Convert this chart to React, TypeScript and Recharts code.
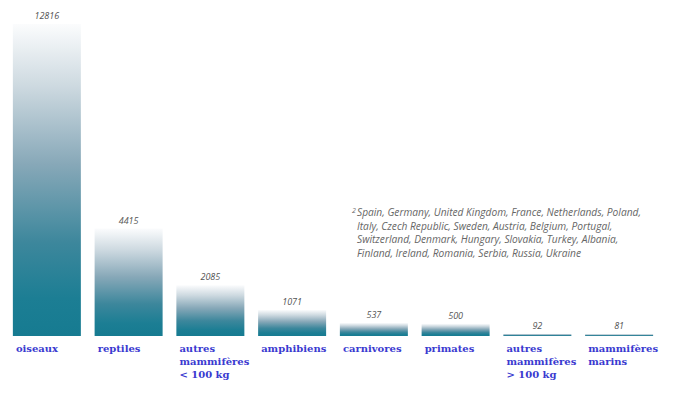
import React from 'react'
import { Bar, BarChart, LabelList, XAxis, YAxis } from 'recharts'

const categories = [
  'oiseaux',
  'reptiles',
  'autres|mammifères|< 100 kg',
  'amphibiens',
  'carnivores',
  'primates',
  'autres|mammifères|> 100 kg',
  'mammifères|marins',
]
const counts = [12816, 4415, 2085, 1071, 537, 500, 92, 81]
const footnote = [
  'Spain, Germany, United Kingdom, France, Netherlands, Poland,',
  'Italy, Czech Republic, Sweden, Austria, Belgium, Portugal,',
  'Switzerland, Denmark, Hungary, Slovakia, Turkey, Albania,',
  'Finland, Ireland, Romania, Serbia, Russia, Ukraine',
]

const data = categories.map((c, i) => ({ name: c, value: counts[i] }))

function CategoryTick(props: any) {
  const { x, y, payload } = props
  const lines = String(payload.value).split('|')
  const left = x - 34 + 3
  return (
    <text
      x={left}
      y={y + 8}
      fill="#3a3ad0"
      fontFamily="'DejaVu Serif', serif"
      fontWeight="bold"
      fontSize={10}
    >
      {lines.map((l, i) => (
        <tspan key={i} x={left} dy={i === 0 ? 0 : 13}>
          {l}
        </tspan>
      ))}
    </text>
  )
}

export default function App() {
  return (
    <div style={{ position: 'absolute', left: 0, top: 0, width: 681, height: 397, background: '#fff' }}>
      <BarChart
        width={681}
        height={397}
        data={data}
        margin={{ top: 24, right: 21, bottom: 0, left: 6 }}
        barCategoryGap="8.4%"
      >
        <defs>
          <linearGradient id="barFade" x1="0" y1="0" x2="0" y2="1">
            <stop offset="0%" stopColor="#fbfcfd" />
            <stop offset="20%" stopColor="#cdd9e0" />
            <stop offset="45%" stopColor="#87a8b8" />
            <stop offset="70%" stopColor="#3d879c" />
            <stop offset="88%" stopColor="#1c7e94" />
            <stop offset="100%" stopColor="#167b91" />
          </linearGradient>
        </defs>
        <XAxis
          dataKey="name"
          axisLine={false}
          tickLine={false}
          height={61}
          interval={0}
          tick={<CategoryTick />}
        />
        <YAxis hide domain={[0, 12816]} />
        <Bar dataKey="value" fill="url(#barFade)" isAnimationActive={false}>
          <LabelList
            dataKey="value"
            position="top"
            offset={5}
            fill="#555"
            fontSize={9}
            fontStyle="italic"
            fontFamily="'Open Sans', sans-serif"
          />
        </Bar>
        <text
          x={352}
          y={216}
          fill="#666"
          fontSize={10.2}
          fontStyle="italic"
          fontFamily="'Open Sans', sans-serif"
        >
          <tspan x={352} fontSize={7} dy={-3}>2</tspan>
          <tspan x={357} dy={3}>{footnote[0]}</tspan>
          {footnote.slice(1).map((l, i) => (
            <tspan key={i} x={357} dy={13.5}>
              {l}
            </tspan>
          ))}
        </text>
      </BarChart>
    </div>
  )
}
